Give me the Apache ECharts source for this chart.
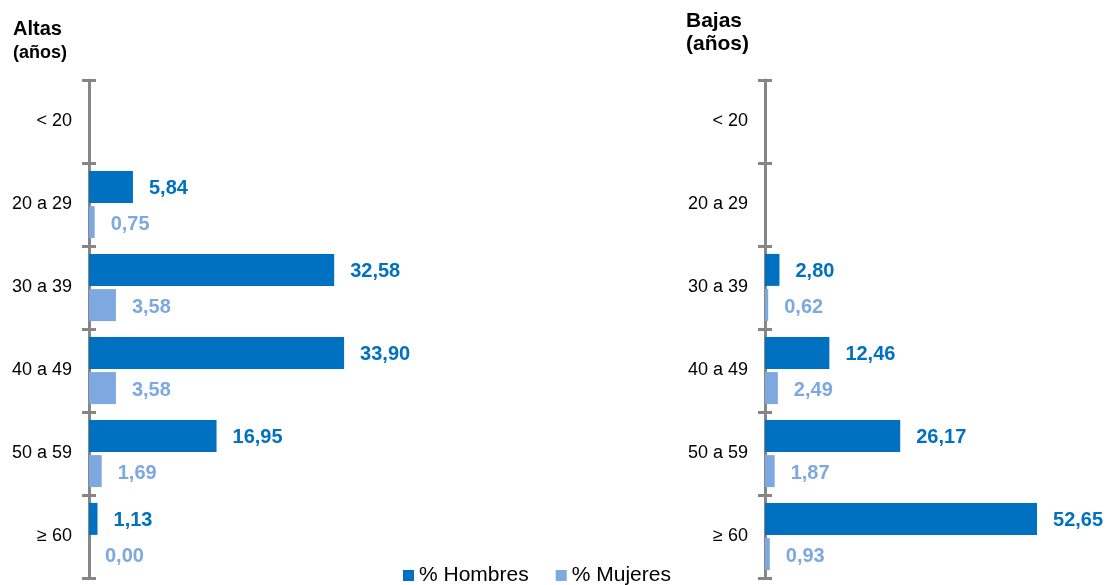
<!DOCTYPE html>
<html>
<head>
<meta charset="utf-8">
<script src="https://cdn.jsdelivr.net/npm/echarts@6/dist/echarts.min.js"></script>
<style>html,body{margin:0;padding:0;background:#fff;}#c{width:1108px;height:585px;}</style>
</head>
<body>
<div id="c"></div>
<script>
const categories = ['< 20', '20 a 29', '30 a 39', '40 a 49', '50 a 59', '≥ 60'];
const altasHombres = [null, 5.84, 32.58, 33.90, 16.95, 1.13];
const altasMujeres = [null, 0.75, 3.58, 3.58, 1.69, 0.00];
const bajasHombres = [null, null, 2.80, 12.46, 26.17, 52.65];
const bajasMujeres = [null, null, 0.62, 2.49, 1.87, 0.93];

const C_H = '#0070C0', C_M = '#7EA8E0', AX = '#868686';
const FONT = 'Liberation Sans, Arial, sans-serif';
const fmt = p => p.value == null ? '' : p.value.toFixed(2).replace('.', ',');

function mainY(grid) {
  return {
    type: 'category', data: categories, inverse: true, gridIndex: grid, position: 'left',
    axisLine: { show: true, lineStyle: { color: AX, width: 3 } },
    axisTick: { show: true, length: 7, lineStyle: { color: AX, width: 3 } },
    axisLabel: { color: '#000', fontSize: 18, fontFamily: FONT, margin: 17, padding: [5, 0, 0, 0] }
  };
}
function tickY(grid) {
  return {
    type: 'category', data: categories, inverse: true, gridIndex: grid, position: 'left', offset: 0,
    axisLine: { show: false },
    axisTick: { show: true, inside: true, length: 7, lineStyle: { color: AX, width: 3 } },
    axisLabel: { show: false }
  };
}
function bar(name, data, color, xi, yi) {
  return {
    name, type: 'bar', data, xAxisIndex: xi, yAxisIndex: yi,
    barWidth: 32, barGap: '10%', itemStyle: { color },
    label: { show: true, position: 'right', distance: 16, offset: [0, 2], formatter: fmt,
      color, fontSize: 20, fontWeight: 'bold', fontFamily: FONT },
    z: 3
  };
}

const chart = echarts.init(document.getElementById('c'));
chart.setOption({
  animation: false,
  textStyle: { fontFamily: FONT },
  title: [
    { text: 'Altas', left: 8, top: 14, textStyle: { fontSize: 20, fontWeight: 'bold', color: '#000', fontFamily: FONT } },
    { text: '(años)', left: 8, top: 39, textStyle: { fontSize: 18, fontWeight: 'bold', color: '#000', fontFamily: FONT } },
    { text: 'Bajas', left: 681, top: 6, textStyle: { fontSize: 21, fontWeight: 'bold', color: '#000', fontFamily: FONT } },
    { text: '(años)', left: 681, top: 29, textStyle: { fontSize: 21, fontWeight: 'bold', color: '#000', fontFamily: FONT } }
  ],
  legend: {
    data: ['% Hombres', '% Mujeres'], left: 398, top: 560, icon: 'rect',
    itemWidth: 11, itemHeight: 11, itemGap: 27,
    textStyle: { fontSize: 21, color: '#000', fontFamily: FONT }
  },
  grid: [
    { left: 89, top: 80, width: 301, height: 498 },
    { left: 765, top: 80, width: 310, height: 498 }
  ],
  xAxis: [
    { type: 'value', gridIndex: 0, min: 0, max: 40, show: false, splitLine: { show: false } },
    { type: 'value', gridIndex: 1, min: 0, max: 60, show: false, splitLine: { show: false } }
  ],
  yAxis: [mainY(0), tickY(0), mainY(1), tickY(1)],
  series: [
    bar('% Hombres', altasHombres, C_H, 0, 0),
    bar('% Mujeres', altasMujeres, C_M, 0, 0),
    bar('% Hombres', bajasHombres, C_H, 1, 2),
    bar('% Mujeres', bajasMujeres, C_M, 1, 2)
  ]
});
</script>
</body>
</html>
